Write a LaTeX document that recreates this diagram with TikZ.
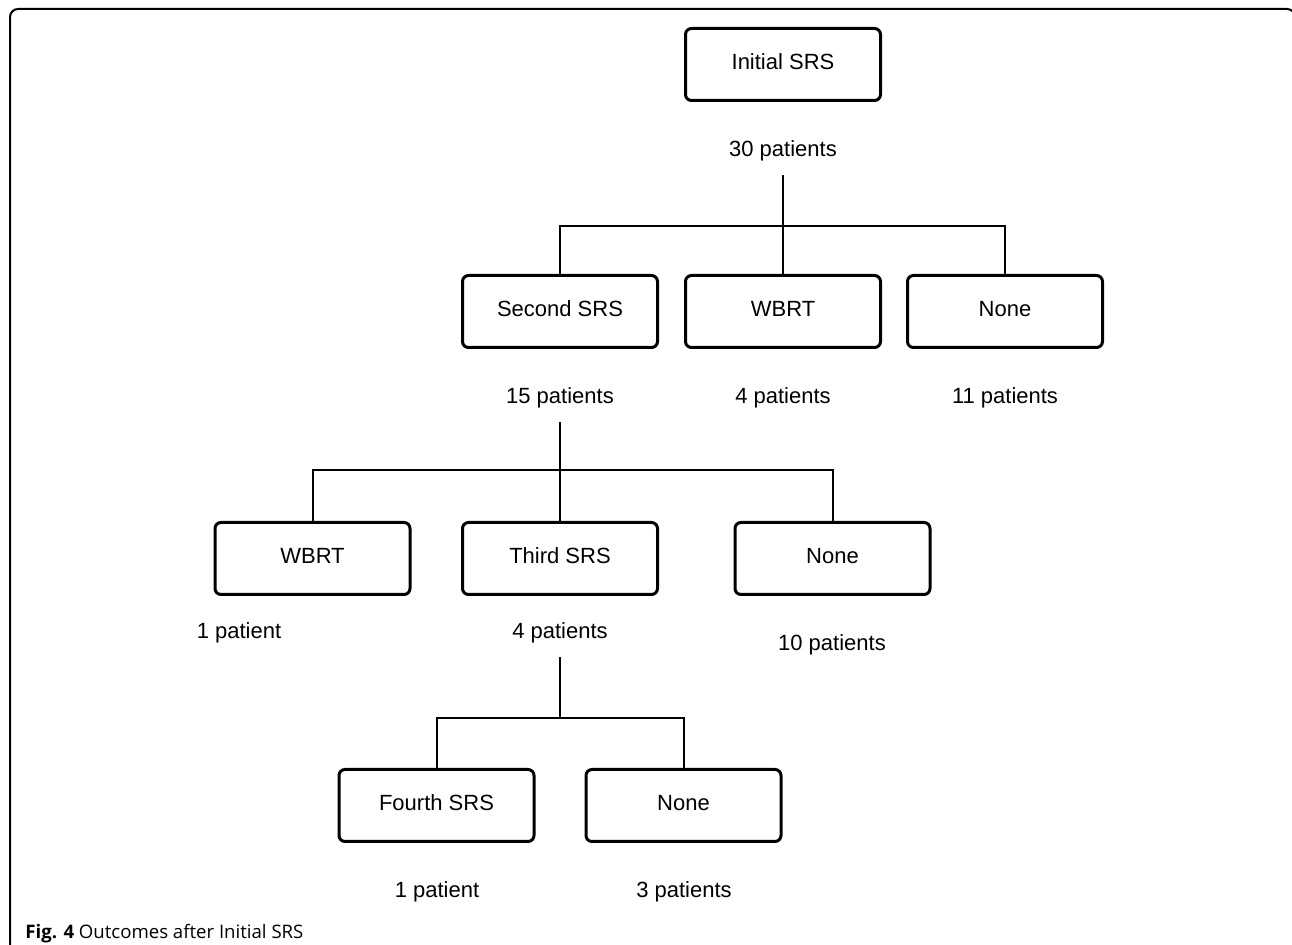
\documentclass[tikz,border=0pt]{standalone}
\usepackage{fontspec}
\setmainfont{Liberation Sans}
\newfontfamily\capfont{Open Sans}

\begin{document}
\begin{tikzpicture}[x=0.5pt,y=-0.5pt,
	box/.style={draw,line width=1.5pt,rounded corners=3pt,minimum width=97.5pt,minimum height=36pt,font=\fontsize{11}{13}\selectfont,text depth=0.3em},
	tally/.style={font=\fontsize{11}{13}\selectfont,yshift=-1pt},
	link/.style={line width=1pt},
	from/.style={link,shorten <=3.5pt}]
	\useasboundingbox (0,0) rectangle (1292,945);
	\draw[line width=1pt,rounded corners=4pt] (10,950) -- (10,9) -- (1295,9) -- (1295,40);
	
	\node[box] (init) at (783,64.5) {Initial SRS};
	\node[tally] (nInit) at (783,149) {30 patients};
	
	\node[box] (second) at (560,311.5) {Second SRS};
	\node[box] (wbrtA) at (783,311.5) {WBRT};
	\node[box] (noneA) at (1005,311.5) {None};
	\node[tally] (nSecond) at (560,396) {15 patients};
	\node[tally] (nWbrtA) at (783,396) {4 patients};
	\node[tally] (nNoneA) at (1005,396) {11 patients};
	
	\node[box] (wbrtB) at (312.5,558.5) {WBRT};
	\node[box] (third) at (560,558.5) {Third SRS};
	\node[box] (noneB) at (832.5,558.5) {None};
	\node[tally] (nWbrtB) at (239,631) {1 patient};
	\node[tally] (nThird) at (560,631) {4 patients};
	\node[tally] (nNoneB) at (832,643) {10 patients};
	
	\node[box] (fourth) at (436.5,805.5) {Fourth SRS};
	\node[box] (noneC) at (683.5,805.5) {None};
	\node[tally] (nFourth) at (437,890) {1 patient};
	\node[tally] (nNoneC) at (684,890) {3 patients};
	
	% branches
	\coordinate (barA) at (783,226);
	\draw[from] (nInit) -- (wbrtA);
	\draw[link] (second) |- (barA) -| (noneA);
	
	\coordinate (barB) at (560,470);
	\draw[from] (nSecond) -- (third);
	\draw[link] (wbrtB) |- (barB) -| (noneB);
	
	\coordinate (barC) at (560,718);
	\draw[from] (nThird) -- (barC);
	\draw[link] (fourth) |- (barC) -| (noneC);
	
	\node[anchor=west,inner sep=0pt,font=\capfont\fontsize{9.3}{11}\selectfont] (cap) at (25,934) {\textbf{Fig. 4} Outcomes after Initial SRS};
\end{tikzpicture}
\end{document}
